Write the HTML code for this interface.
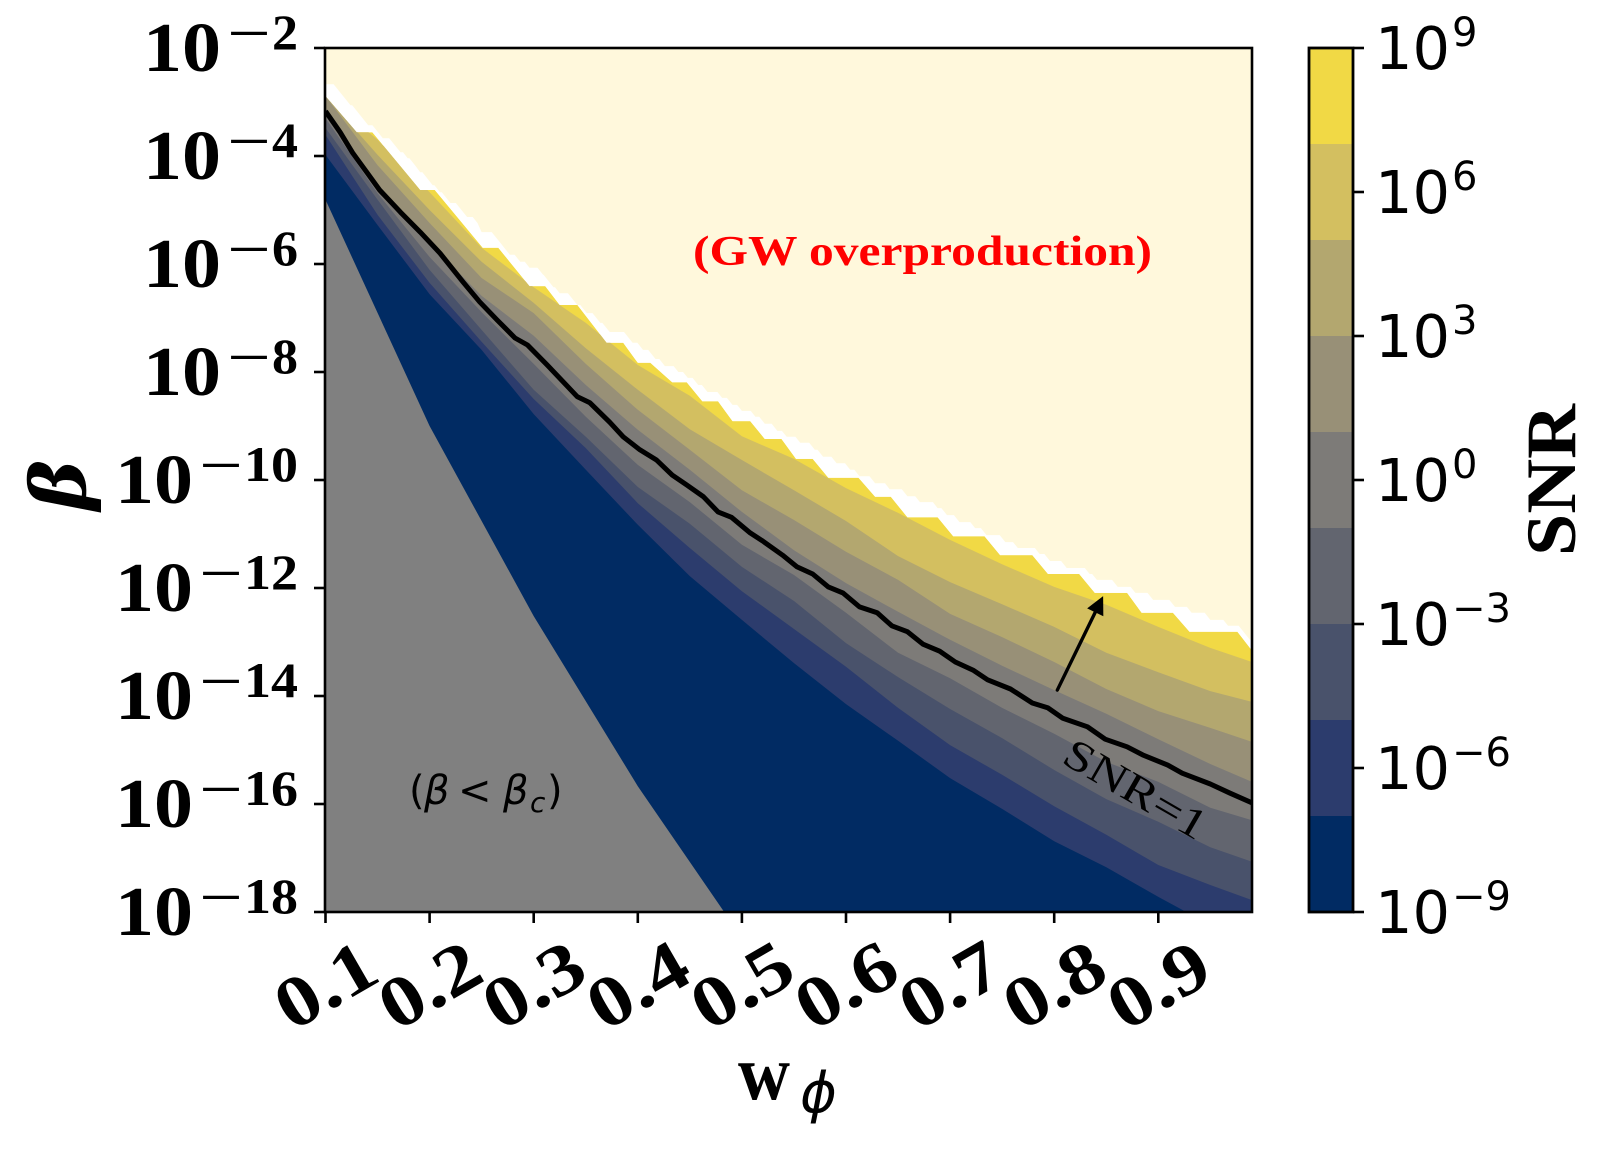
<!DOCTYPE html>
<html lang="en">
<head>
<meta charset="utf-8">
<title>SNR contour plot</title>
<style>
html,body{margin:0;padding:0;background:#fff;}
svg{display:block;}
.serif{font-family:"Liberation Serif",serif;}
.bold{font-weight:bold;}
.sans{font-family:"DejaVu Sans",sans-serif;}
</style>
</head>
<body>
<svg id="chart" xmlns="http://www.w3.org/2000/svg" width="1610" height="1149" viewBox="0 0 1610 1149">
  <defs>
    <clipPath id="axes-clip"><rect x="325.5" y="48" width="926.5" height="864"></rect></clipPath>
    <clipPath id="stair-clip"><polygon id="stair-clip-poly" points="0,0"></polygon></clipPath>
  </defs>
  <g id="plot" clip-path="url(#axes-clip)"></g>
  <g id="axes"></g>
  <g id="cbar"></g>
  <g id="notes"></g>
</svg>
<script>
// ---- data (w_phi on x, log10(beta) on y) ----
const wGrid = [0.10,0.15,0.20,0.25,0.30,0.35,0.40,0.45,0.50,0.55,0.60,0.65,0.70,0.75,0.80,0.85,0.90,0.95,0.99];
const level7 = [-2.89,-3.70,-4.67,-5.70,-6.43,-7.09,-7.87,-8.44,-9.19,-9.61,-10.15,-10.61,-11.11,-11.56,-11.98,-12.31,-12.72,-13.11,-13.37];
const level5 = [-2.89,-3.98,-5.00,-5.96,-6.72,-7.56,-8.33,-9.06,-9.63,-10.19,-10.76,-11.41,-11.89,-12.30,-12.72,-13.20,-13.56,-13.91,-14.11];
const level3 = [-2.89,-4.17,-5.24,-6.26,-6.91,-7.85,-8.70,-9.44,-10.19,-10.74,-11.33,-11.85,-12.48,-12.91,-13.37,-13.87,-14.28,-14.59,-14.85];
const level1 = [-3.11,-4.54,-5.61,-6.59,-7.33,-8.24,-9.07,-9.81,-10.59,-11.30,-11.91,-12.44,-12.96,-13.44,-13.89,-14.33,-14.80,-15.26,-15.59];
const levelM1 = [-3.30,-4.69,-5.87,-6.89,-7.85,-8.83,-9.72,-10.41,-11.20,-11.76,-12.46,-13.20,-13.67,-14.22,-14.70,-15.22,-15.59,-16.07,-16.30];
const levelM3 = [-3.48,-4.81,-6.11,-7.22,-8.33,-9.20,-10.13,-10.81,-11.61,-12.24,-13.02,-13.65,-14.24,-14.78,-15.37,-15.91,-16.33,-16.80,-17.07];
const levelM5 = [-3.61,-5.09,-6.35,-7.44,-8.50,-9.41,-10.43,-11.26,-12.06,-12.76,-13.46,-14.22,-14.91,-15.46,-16.04,-16.57,-17.13,-17.50,-17.78];
const levelM7 = [-3.98,-5.28,-6.56,-7.59,-8.78,-9.81,-10.83,-11.78,-12.59,-13.39,-14.15,-14.83,-15.52,-16.09,-16.69,-17.17,-17.72,-18.24,-18.61];

const creamStepW = [0.100,0.124,0.141,0.155,0.172,0.179,0.186,0.191,0.203,0.210,0.220,0.236,0.246,0.250,0.268,0.277,0.287,0.296,0.309,0.319,0.325,0.342,0.351,0.364,0.373,0.395,0.405,0.417,0.426,0.439,0.448,0.458,0.467,0.481,0.491,0.500,0.513,0.522,0.534,0.543,0.556,0.570,0.578,0.591,0.604,0.613,0.628,0.642,0.659,0.671,0.688,0.697,0.709,0.724,0.735,0.753,0.765,0.786,0.796,0.812,0.834,0.841,0.861,0.878,0.895,0.916,0.932,0.950,0.967,0.988];
const creamStepLogBeta = [-2.67,-3.06,-3.43,-3.67,-3.93,-4.04,-4.17,-4.30,-4.54,-4.67,-4.87,-5.13,-5.24,-5.41,-5.61,-5.83,-5.96,-6.07,-6.20,-6.43,-6.54,-6.76,-6.91,-7.09,-7.26,-7.46,-7.59,-7.76,-7.89,-8.00,-8.11,-8.24,-8.37,-8.48,-8.61,-8.72,-8.83,-8.96,-9.09,-9.20,-9.31,-9.44,-9.57,-9.69,-9.81,-9.93,-10.06,-10.17,-10.30,-10.41,-10.52,-10.65,-10.78,-10.89,-11.02,-11.15,-11.26,-11.37,-11.50,-11.63,-11.74,-11.85,-11.98,-12.09,-12.22,-12.35,-12.46,-12.59,-12.70,-12.96];

const stairW = [0.100,0.130,0.145,0.191,0.205,0.251,0.266,0.296,0.311,0.325,0.342,0.370,0.386,0.400,0.412,0.433,0.447,0.462,0.477,0.491,0.508,0.522,0.538,0.552,0.568,0.583,0.612,0.628,0.643,0.659,0.688,0.703,0.733,0.748,0.779,0.794,0.824,0.839,0.870,0.884,0.914,0.930,0.976,0.988,0.990];
const stairLogBeta = [-2.89,-3.56,-3.56,-4.63,-4.63,-5.70,-5.70,-6.41,-6.41,-6.76,-6.76,-7.46,-7.46,-7.83,-7.83,-8.19,-8.19,-8.54,-8.54,-8.91,-8.91,-9.24,-9.24,-9.61,-9.61,-9.96,-9.96,-10.31,-10.31,-10.69,-10.69,-11.04,-11.04,-11.39,-11.39,-11.74,-11.74,-12.09,-12.09,-12.46,-12.46,-12.81,-12.81,-13.11,-13.15];

const snrOneW = [0.100,0.114,0.126,0.140,0.152,0.172,0.191,0.210,0.232,0.248,0.265,0.282,0.294,0.313,0.342,0.354,0.373,0.386,0.402,0.418,0.433,0.447,0.463,0.477,0.490,0.508,0.520,0.539,0.553,0.568,0.583,0.597,0.613,0.630,0.644,0.659,0.674,0.690,0.705,0.722,0.736,0.758,0.779,0.794,0.808,0.832,0.849,0.870,0.885,0.909,0.923,0.950,0.969,0.990];
const snrOneLogBeta = [-3.17,-3.56,-3.94,-4.31,-4.63,-5.04,-5.41,-5.80,-6.33,-6.70,-7.04,-7.37,-7.50,-7.87,-8.46,-8.57,-8.93,-9.20,-9.44,-9.63,-9.91,-10.09,-10.31,-10.59,-10.69,-10.98,-11.13,-11.39,-11.61,-11.74,-11.98,-12.09,-12.35,-12.46,-12.70,-12.81,-13.04,-13.17,-13.37,-13.52,-13.70,-13.87,-14.13,-14.22,-14.41,-14.57,-14.80,-14.94,-15.09,-15.28,-15.43,-15.63,-15.80,-15.98];

const betaCritW = [0.100,0.200,0.300,0.400,0.483];
const betaCritLogBeta = [-4.81,-9.00,-12.52,-15.67,-18.00];

const arrowW = [0.803,0.847];
const arrowLogBeta = [-13.89,-12.15];

const xTicks = [0.1,0.2,0.3,0.4,0.5,0.6,0.7,0.8,0.9];
const xTickLabels = ["0.1","0.2","0.3","0.4","0.5","0.6","0.7","0.8","0.9"];
const yTicks = [-2,-4,-6,-8,-10,-12,-14,-16,-18];
const cbarEdges = [9,7,5,3,1,-1,-3,-5,-7,-9];
const cbarTicks = [9,6,3,0,-3,-6,-9];

const bandColors = ["#f1d945","#d3bf60","#b3a76f","#989077","#7d7b78","#62656f","#49526b","#2c3c6d","#012b63"];

// ---- axis functions ----
const xScale = w => 325.5 + (w - 0.1) * 1041;
const yScale = l => 48 + (-2 - l) * 54;
const cbScale = l => 48 + (9 - l) * 48;

const NS = "http://www.w3.org/2000/svg";
function mk(parent, tag, attrs, txt){
  const el = document.createElementNS(NS, tag);
  for (const k in attrs) el.setAttribute(k, attrs[k]);
  if (txt !== undefined) el.textContent = txt;
  parent.appendChild(el);
  return el;
}
const pts = (ws, ls) => ws.map((w,i) => xScale(w).toFixed(1) + "," + yScale(ls[i]).toFixed(1));
const below = (ws, ls) => pts(ws, ls).concat([xScale(ws[ws.length-1]).toFixed(1)+",960", xScale(ws[0]).toFixed(1)+",960"]).join(" ");

// stepped edge: flat tread from each point, sloped riser into the next
function stepped(ws, ls){
  const out = [];
  ws.forEach((w, i) => {
    const x = xScale(w), y = yScale(ls[i]);
    if (i > 0) {
      const py = yScale(ls[i-1]);
      const px = xScale(ws[i-1]);
      const sx = Math.max(px, x - (y - py) / 1.25);
      out.push(sx.toFixed(1) + "," + py.toFixed(1));
    }
    out.push(x.toFixed(1) + "," + y.toFixed(1));
  });
  out.push("1253," + yScale(ls[ls.length-1]).toFixed(1));
  return out;
}

const plot = document.getElementById("plot");
const axes = document.getElementById("axes");
const cbar = document.getElementById("cbar");
const notes = document.getElementById("notes");

// background
const bg = mk(plot, "rect", {x:325, y:48, width:928, height:864, fill:"#fff8dc"});



// white strip below the cream edge
const stripPts = stepped(creamStepW, creamStepLogBeta).concat(["1253,960", "325,960"]).join(" ");
const strip = mk(plot, "polygon", {points:stripPts, fill:"#ffffff"});



// filled contour bands
document.getElementById("stair-clip-poly").setAttribute("points", below(stairW, stairLogBeta));
const bands = mk(plot, "g", {"clip-path":"url(#stair-clip)"});



const topBand = mk(bands, "polygon", {points:below(stairW, stairLogBeta), fill:bandColors[0]});



[level7, level5, level3, level1, levelM1, levelM3, levelM5, levelM7].forEach((curve, i) => {
  const b = mk(bands, "polygon", {points:below(wGrid, curve), fill:bandColors[i+1]});
  
  
});

// beta < beta_c region
const critPts = pts(betaCritW, betaCritLogBeta).concat([xScale(betaCritW[0]).toFixed(1)+",912"]).join(" ");
const crit = mk(plot, "polygon", {points:critPts, fill:"#808080"});



// SNR = 1 contour
const snrLine = mk(plot, "polyline", {points:pts(snrOneW, snrOneLogBeta).join(" "), fill:"none", stroke:"#000", "stroke-width":5, "stroke-linejoin":"round"});



// spines
const frame = mk(axes, "rect", {x:325, y:48, width:927, height:864, fill:"none", stroke:"#000", "stroke-width":2.6});



// text helper
function fit(parent, x, y, str, size, width, cls){
  const a = {x:x, y:y, "font-size":size, class:cls, fill:"#000"};
  if (width) { a.textLength = width; a.lengthAdjust = "spacingAndGlyphs"; }
  return mk(parent, "text", a, str);
}

// x ticks
xTicks.forEach((v, i) => {
  const x = xScale(v);
  const t = mk(axes, "line", {x1:x, x2:x, y1:912, y2:923, stroke:"#000", "stroke-width":2.6});
  
  
  const g = mk(axes, "g", {transform:"translate(" + x + ",985) rotate(-30)"});
  const l = mk(g, "text", {x:0, y:24, "font-size":72, class:"serif bold", "text-anchor":"middle", textLength:105, lengthAdjust:"spacingAndGlyphs"}, xTickLabels[i]);
  
  
});

// y ticks
yTicks.forEach(v => {
  const y = yScale(v);
  const t = mk(axes, "line", {x1:314, x2:325, y1:y, y2:y, stroke:"#000", "stroke-width":2.6});
  
  
  const digits = String(Math.abs(v));
  const dw = digits.length === 1 ? 26 : 54;
  const dx = 298 - dw;
  const mx = dx - 45;
  const bx = mx - 84;
  const base = fit(axes, bx, y + 23, "10", 70, 78, "serif bold");
  
  
  const minus = fit(axes, mx, y + 1, "\u2212", 47, 44, "serif bold");
  
  
  const exp = fit(axes, dx, y + 1, digits, 50, dw, "serif bold");
  
  
});

// axis titles
const xT1 = fit(axes, 738, 1099, "w", 78, 52, "serif bold");


const xT2 = mk(axes, "text", {x:800, y:1112, "font-size":56, "font-style":"italic", class:"sans"}, "\u03d5");



const yTg = mk(axes, "g", {transform:"translate(85,485) rotate(-90)"});
const yT = mk(yTg, "text", {x:0, y:0, "font-size":76, "font-style":"italic", "font-weight":"bold", "text-anchor":"middle", style:"font-family:'DejaVu Serif',serif"}, "\u03b2");



// colorbar
for (let i = 0; i < bandColors.length; i++) {
  const r = mk(cbar, "rect", {x:1309, y:cbScale(cbarEdges[i]), width:44, height:cbScale(cbarEdges[i+1]) - cbScale(cbarEdges[i]), fill:bandColors[i]});
  
  
}
const cbo = mk(cbar, "rect", {x:1309, y:48, width:44, height:864, fill:"none", stroke:"#000", "stroke-width":2.8});


cbarTicks.forEach(v => {
  const y = cbScale(v);
  const t = mk(cbar, "line", {x1:1353, x2:1364, y1:y, y2:y, stroke:"#000", "stroke-width":2.6});
  
  
  const b = fit(cbar, 1375, y + 21, "10", 59, 0, "sans");
  
  
  const e = fit(cbar, 1452, y - 2, String(v).replace("-", "\u2212"), 40, 0, "sans");
  
  
});
const cbTg = mk(cbar, "g", {transform:"translate(1575,480) rotate(-90)"});
const cbT = mk(cbTg, "text", {x:0, y:0, "font-size":71, class:"serif bold", "text-anchor":"middle", textLength:152, lengthAdjust:"spacingAndGlyphs"}, "SNR");



// annotations
const gw = mk(notes, "text", {x:693, y:265, "font-size":42, class:"serif bold", fill:"#ff0000", textLength:459, lengthAdjust:"spacingAndGlyphs"}, "(GW overproduction)");



const bcOpen = mk(notes, "text", {x:409, y:804, "font-size":40, class:"sans"}, "(");


const bcBeta = mk(notes, "text", {x:424, y:804, "font-size":40, "font-style":"italic", class:"sans"}, "\u03b2");


const bcLess = mk(notes, "text", {x:458, y:804, "font-size":40, class:"sans"}, "<");


const bcBeta2 = mk(notes, "text", {x:503, y:804, "font-size":40, "font-style":"italic", class:"sans"}, "\u03b2");


const bcSub = mk(notes, "text", {x:530, y:812, "font-size":28, "font-style":"italic", class:"sans"}, "c");


const bcClose = mk(notes, "text", {x:547, y:804, "font-size":40, class:"sans"}, ")");



const snrG = mk(notes, "g", {transform:"translate(1060,762) rotate(30)"});
const snrT = mk(snrG, "text", {x:0, y:0, "font-size":43, class:"serif", textLength:158, lengthAdjust:"spacingAndGlyphs"}, "SNR=1");



// arrow
const ax0 = xScale(arrowW[0]), ay0 = yScale(arrowLogBeta[0]);
const ax1 = xScale(arrowW[1]), ay1 = yScale(arrowLogBeta[1]);
const alen = Math.hypot(ax1 - ax0, ay1 - ay0);
const ux = (ax1 - ax0) / alen, uy = (ay1 - ay0) / alen;
const shaft = mk(notes, "line", {x1:ax0, y1:ay0, x2:ax1 - ux*12, y2:ay1 - uy*12, stroke:"#000", "stroke-width":3.4, "stroke-linecap":"round"});


const hx = ax1 - ux*18, hy = ay1 - uy*18;
const head = mk(notes, "polygon", {points:[ax1+","+ay1, (hx - uy*9)+","+(hy + ux*9), (hx + uy*9)+","+(hy - ux*9)].join(" "), fill:"#000"});


</script>
</body>
</html>
